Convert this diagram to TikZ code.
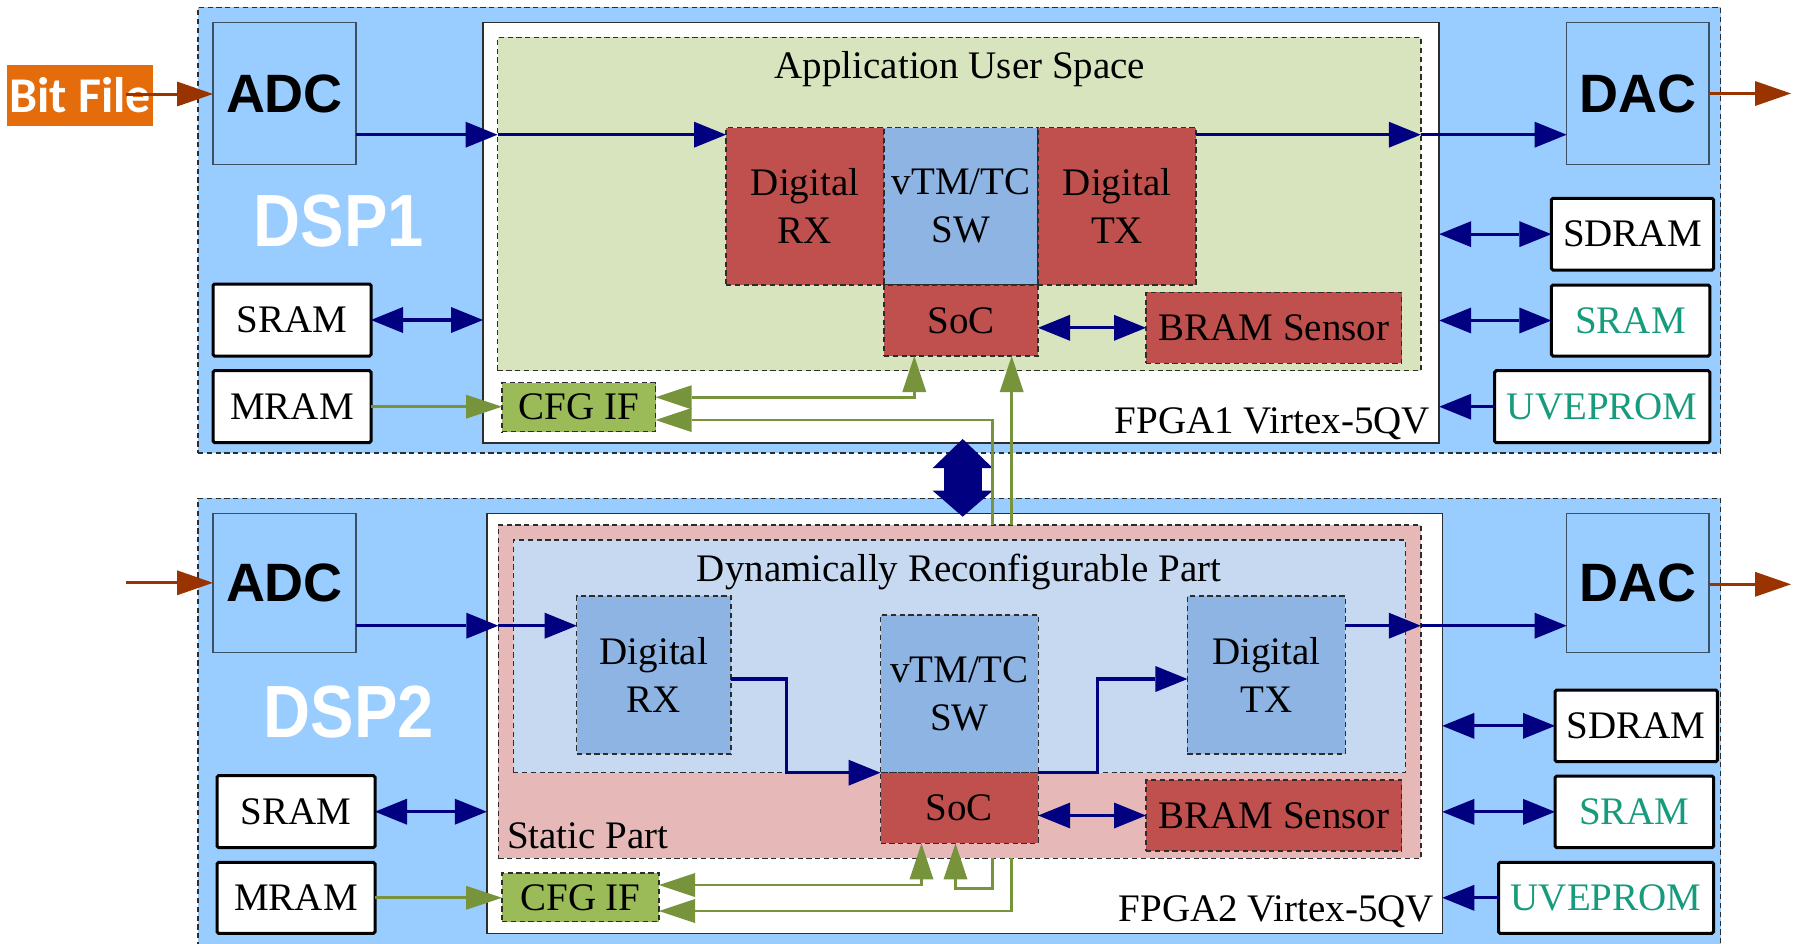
\documentclass[tikz,border=0pt]{standalone}
\usepackage{fontspec}
\usepackage{graphicx}
\setmainfont{Liberation Serif}
\newfontfamily\hwfont{Liberation Sans}
\newfontfamily\tagfont{Carlito}
\usetikzlibrary{arrows.meta,calc,fit}

\definecolor{dspblue}{RGB}{153,204,255}
\definecolor{appgreen}{RGB}{215,228,189}
\definecolor{blockred}{RGB}{192,80,77}
\definecolor{blockblue}{RGB}{142,180,227}
\definecolor{cfggreen}{RGB}{155,187,89}
\definecolor{linkgreen}{RGB}{119,147,60}
\definecolor{linknavy}{RGB}{0,0,128}
\definecolor{linkbrown}{RGB}{153,51,0}
\definecolor{staticpink}{RGB}{230,185,184}
\definecolor{drpblue}{RGB}{198,217,241}
\definecolor{memteal}{RGB}{23,155,125}
\definecolor{fileorange}{RGB}{228,108,10}
\definecolor{edgegray}{RGB}{45,45,45}
\definecolor{convedge}{RGB}{60,80,100}

\tikzset{
  every node/.style={inner sep=0pt, outer sep=0pt},
  sz/.style 2 args={minimum width=#1pt, minimum height=#2pt},
  lbl/.style={font=\fontsize{19.5}{24}\selectfont, align=center},
  dashedge/.style={draw=edgegray, line width=0.7pt, dash pattern=on 2.6pt off 1.8pt},
  dspframe/.style={dashedge, fill=dspblue},
  fpgaframe/.style={draw=edgegray, line width=0.8pt, fill=white},
  conv/.style={fill=dspblue, draw=convedge, line width=0.7pt,
    font=\hwfont\bfseries\fontsize{27}{30}\selectfont},
  mem/.style={lbl, fill=white, draw=black, line width=1.5pt, rounded corners=0.8pt},
  redblk/.style={lbl, dashedge, fill=blockred},
  blueblk/.style={lbl, dashedge, fill=blockblue},
  cfgblk/.style={lbl, dashedge, fill=cfggreen},
  dsptag/.style={text=white, font=\hwfont\bfseries\fontsize{37}{40}\selectfont},
  navyto/.style={draw=linknavy, line width=1.6pt,
    -{Triangle[length=16pt,width=13pt,line width=0pt]}},
  navyboth/.style={draw=linknavy, line width=1.6pt,
    {Triangle[length=16pt,width=13pt,line width=0pt]}-{Triangle[length=16pt,width=13pt,line width=0pt]}},
  greento/.style={draw=linkgreen, line width=1.4pt,
    -{Triangle[length=18pt,width=12pt,line width=0pt]}},
  greenfrom/.style={draw=linkgreen, line width=1.4pt,
    {Triangle[length=18pt,width=12pt,line width=0pt]}-},
  greenboth/.style={draw=linkgreen, line width=1.4pt,
    {Triangle[length=18pt,width=12pt,line width=0pt]}-{Triangle[length=18pt,width=12pt,line width=0pt]}},
  brownto/.style={draw=linkbrown, line width=1.5pt,
    -{Triangle[length=18pt,width=12.5pt,line width=0pt]}},
  busarrow/.style={draw=linknavy, line width=19pt,
    {Triangle[length=14.5pt,width=30pt,line width=0pt]}-{Triangle[length=13pt,width=30pt,line width=0pt]}},
}

\begin{document}
\begin{tikzpicture}[x=0.5pt, y=-0.5pt]
\useasboundingbox (0,0) rectangle (1799,943);
\clip (0,0) rectangle (1799,943);

% ---------- board frames ----------
\node[dspframe, fit={(198,7.3) (1720.5,453)}] (dsp1) {};
\node[dspframe, fit={(198,498.3) (1720.5,952)}] (dsp2) {};
\node[fpgaframe, fit={(483,22.3) (1439.2,442.7)}] (fpga1) {};
\node[fpgaframe, fit={(486.8,513.3) (1442.3,933.3)}] (fpga2) {};

% ---------- FPGA1 contents ----------
\node[dashedge, fill=appgreen, fit={(497.5,37.3) (1420.8,370.7)}] (app) {};
\node[lbl, anchor=base] (apptitle) at (960,78) {Application User Space};
\node[redblk, sz={79}{78.65}] (rx1) at (805,206.35) {Digital\\RX};
\node[blueblk, sz={77}{78.65}] (sw1) at (961,206.35) {vTM/TC\\SW};
\node[redblk, sz={79}{78.65}] (tx1) at (1117,206.35) {Digital\\TX};
\node[redblk, sz={77}{35.5}] (soc1) at (961,320.5) {SoC};
\node[redblk, sz={127.85}{35.5}] (bram1) at (1273.85,327.8) {BRAM Sensor};
\node[cfgblk, sz={76.75}{24.5}] (cfg1) at (578.75,407.2) {CFG IF};
\node[lbl, anchor=base east] (fpga1tag) at (1430,433) {FPGA1 Virtex-5QV};

% ---------- FPGA2 contents ----------
\node[dashedge, fill=staticpink, fit={(498.3,525) (1420.8,858.3)}] (static) {};
\node[dashedge, fill=drpblue, fit={(513.2,540) (1405.5,772.7)}] (drp) {};
\node[lbl, anchor=base] (drptitle) at (959,581) {Dynamically Reconfigurable Part};
\node[lbl, anchor=base west] (statictitle) at (507,848.3) {Static Part};
\node[blueblk, sz={77.15}{79}] (rx2) at (653.85,675) {Digital\\RX};
\node[blueblk, sz={78.85}{78.85}] (sw2) at (959.35,693.85) {vTM/TC\\SW};
\node[blueblk, sz={79}{79}] (tx2) at (1266.4,675) {Digital\\TX};
\node[redblk, sz={78.85}{35.3}] (soc2) at (959.35,808) {SoC};
\node[redblk, sz={127.85}{35.5}] (bram2) at (1273.85,815.5) {BRAM Sensor};
\node[cfgblk, sz={78.5}{24.35}] (cfg2) at (580.5,897.35) {CFG IF};
\node[lbl, anchor=base east] (fpga2tag) at (1434,921.7) {FPGA2 Virtex-5QV};

% ---------- converters ----------
\node[conv, sz={71.5}{71.2}] (adc1) at (284.5,93.5) {ADC};
\node[conv, sz={71.2}{71.2}] (dac1) at (1637.8,93.5) {DAC};
\node[conv, sz={71.5}{69.5}] (adc2) at (284.5,582.8) {ADC};
\node[conv, sz={71.2}{69.5}] (dac2) at (1637.8,582.8) {DAC};

% ---------- memories ----------
\node[mem, sz={79}{36}] (sramL1) at (292,320) {SRAM};
\node[mem, sz={79}{36}] (mram1) at (292,406.7) {MRAM};
\node[mem, sz={81.15}{35.85}] (sdram1) at (1632.45,234.15) {SDRAM};
\node[mem, text=memteal, sz={79.25}{35.5}] (sramR1) at (1630.55,320.5) {SRAM};
\node[mem, text=memteal, sz={107.55}{36}] (uvep1) at (1602.25,406.7) {UVEPROM};
\node[mem, sz={79}{36}] (sramL2) at (296,811.7) {SRAM};
\node[mem, sz={79}{35.5}] (mram2) at (296,897.8) {MRAM};
\node[mem, sz={81.2}{35.85}] (sdram2) at (1636.2,725.85) {SDRAM};
\node[mem, text=memteal, sz={79.3}{35.85}] (sramR2) at (1634.3,811.85) {SRAM};
\node[mem, text=memteal, sz={107.55}{35.5}] (uvep2) at (1606.05,897.8) {UVEPROM};

% ---------- board names and bit file ----------
\node[dsptag] (dsp1tag) at (339,221) {\scalebox{0.88}[1]{DSP1}};
\node[dsptag] (dsp2tag) at (349,712) {\scalebox{0.88}[1]{DSP2}};
\node[fill=fileorange, text=white, font=\tagfont\bfseries\fontsize{25}{28}\selectfont,
      sz={73.05}{30.5}] (bitfile) at (79.95,95.5) {Bit File};

% ---------- helper coordinates ----------
\coordinate (ya1) at (0,134.7);
\coordinate (ya2) at (0,625.7);
\coordinate (yr) at (0,679);
\coordinate (xr1) at (786.8,0);
\coordinate (xr2) at (1097.5,0);
\coordinate (bfstart) at ($(bitfile.east)+(-27,-1.5)$);
\coordinate (adc2in) at (126,582.8);
\coordinate (dac1out) at (1791,93.5);
\coordinate (dac2out) at (1791,584.3);

% ---------- brown I/O arrows ----------
\draw[brownto] (bfstart) -- (bfstart -| adc1.west);
\draw[brownto] (adc2in) -- (adc2in -| adc2.west);
\draw[brownto] (dac1out -| dac1.east) -- (dac1out);
\draw[brownto] (dac2out -| dac2.east) -- (dac2out);

% ---------- data path DSP1 ----------
\draw[navyto] (adc1.east |- ya1) -- (app.west |- ya1);
\draw[navyto] (app.west |- ya1) -- (rx1.west |- ya1);
\draw[navyto] (tx1.east |- ya1) -- (app.east |- ya1);
\draw[navyto] (app.east |- ya1) -- (dac1.west |- ya1);

% ---------- data path DSP2 ----------
\draw[navyto] (adc2.east |- ya2) -- (static.west |- ya2);
\draw[navyto] (static.west |- ya2) -- (rx2.west |- ya2);
\draw[navyto] (rx2.east |- yr) -- (xr1 |- yr) -- (xr1 |- sw2.south west) -- (sw2.south west);
\draw[navyto] (sw2.south east) -- (xr2 |- sw2.south east) -- (xr2 |- yr) -- (tx2.west |- yr);
\draw[navyto] (tx2.east |- ya2) -- (static.east |- ya2);
\draw[navyto] (static.east |- ya2) -- (dac2.west |- ya2);

% ---------- memory links ----------
\draw[navyboth] (sramL1.east) -- (sramL1.east -| fpga1.west);
\draw[navyboth] (sdram1.west -| fpga1.east) -- (sdram1.west);
\draw[navyboth] (sramR1.west -| fpga1.east) -- (sramR1.west);
\draw[navyto] (uvep1.west) -- (uvep1.west -| fpga1.east);
\draw[navyboth] (soc1.east |- bram1.west) -- (bram1.west);
\draw[navyboth] (sramL2.east) -- (sramL2.east -| fpga2.west);
\draw[navyboth] (sdram2.west -| fpga2.east) -- (sdram2.west);
\draw[navyboth] (sramR2.west -| fpga2.east) -- (sramR2.west);
\draw[navyto] (uvep2.west) -- (uvep2.west -| fpga2.east);
\draw[navyboth] (soc2.east |- bram2.west) -- (bram2.west);

% ---------- inter-FPGA bus ----------
\coordinate (busA) at ($(fpga1.south)+(1.6,-3.7)$);
\coordinate (busB) at ($(busA |- fpga2.north)+(0,3.4)$);
\draw[busarrow] (busA) -- (busB);

% ---------- configuration links ----------
\coordinate (xg1) at (914.3,0);
\coordinate (xA) at (992.7,0);
\coordinate (xB) at (1011.7,0);
\coordinate (xC) at (955.5,0);
\coordinate (xg4) at (921.5,0);
\coordinate (yg1) at (0,397.3);
\coordinate (yA1) at (0,420);
\coordinate (yA2) at (0,888.7);
\coordinate (yB2) at (0,911);
\coordinate (yg4) at (0,885);

\draw[greento] (mram1.east) -- (mram1.east -| cfg1.west);
\draw[greento] (mram2.east) -- (mram2.east -| cfg2.west);
\draw[greenboth] (soc1.south -| xg1) -- (xg1 |- yg1) -- (cfg1.east |- yg1);
\draw[greenfrom] (cfg1.east |- yA1) -- (xA |- yA1) -- (xA |- static.north);
\draw[greento] (xA |- static.south) -- (xA |- yA2) -- (xC |- yA2) -- (soc2.south -| xC);
\draw[greenfrom] (soc1.south -| xB) -- (xB |- static.north);
\draw[greento] (xB |- static.south) -- (xB |- yB2) -- (cfg2.east |- yB2);
\draw[greenboth] (soc2.south -| xg4) -- (xg4 |- yg4) -- (cfg2.east |- yg4);
\end{tikzpicture}
\end{document}
